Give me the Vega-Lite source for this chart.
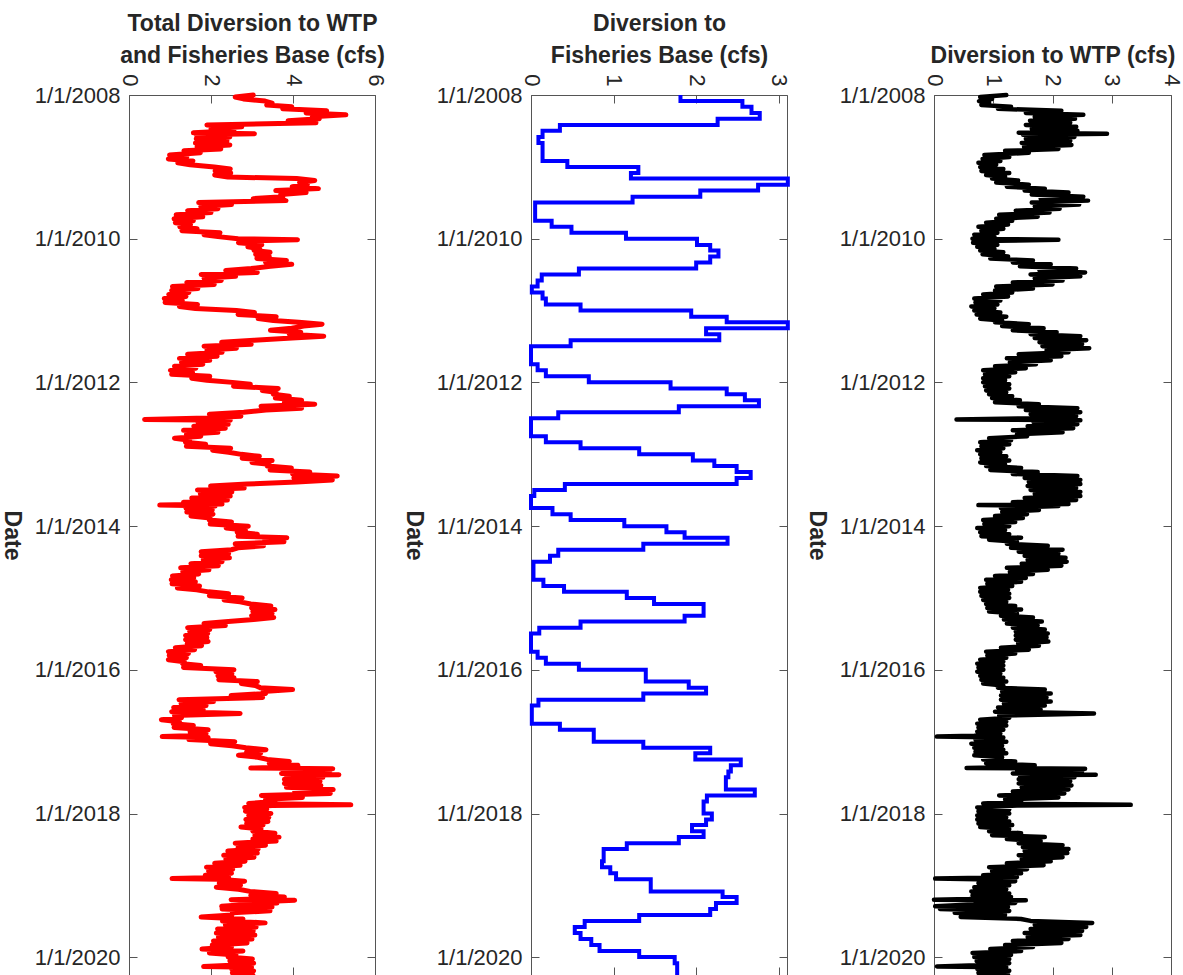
{
"$schema":"https://vega.github.io/schema/vega-lite/v6.json",
"background":"white",
"padding":{"left":-2,"top":12,"right":0,"bottom":0},
"config":{"font":"Liberation Sans","view":{"stroke":"#555555","strokeWidth":1},
"axis":{"labelFont":"Liberation Sans","titleFont":"Liberation Sans","labelColor":"#262626","titleColor":"#262626","labelFontSize":22,"titleFontSize":23,"titleFontWeight":"bold","domain":false,"grid":false,"tickColor":"#555555","tickWidth":1,"labelFlush":false}},
"datasets":{
"div":[
{"t":"2008-01-01","k":1.22,"r":3.03},{"t":"2008-01-11","k":0.78,"r":2.59},{"t":"2008-01-21","k":0.98,"r":2.79},
{"t":"2008-02-01","k":0.76,"r":3.32},{"t":"2008-02-11","k":0.93,"r":3.49},{"t":"2008-02-21","k":0.80,"r":3.36},
{"t":"2008-03-01","k":1.30,"r":3.97},{"t":"2008-03-11","k":1.08,"r":3.75},{"t":"2008-03-21","k":2.15,"r":4.82},
{"t":"2008-04-01","k":1.55,"r":4.32},{"t":"2008-04-11","k":2.52,"r":5.29},{"t":"2008-04-21","k":1.70,"r":4.47},
{"t":"2008-05-01","k":2.38,"r":4.64},{"t":"2008-05-11","k":1.62,"r":3.88},{"t":"2008-05-21","k":2.30,"r":4.56},
{"t":"2008-06-01","k":1.55,"r":1.90},{"t":"2008-06-11","k":2.40,"r":2.75},{"t":"2008-06-21","k":1.65,"r":2.00},
{"t":"2008-07-01","k":2.42,"r":2.56},{"t":"2008-07-11","k":1.43,"r":1.57},{"t":"2008-07-16","k":2.92,"r":3.06},{"t":"2008-07-21","k":1.50,"r":1.64},
{"t":"2008-08-01","k":2.37,"r":2.46},{"t":"2008-08-11","k":1.55,"r":1.64},{"t":"2008-08-21","k":2.30,"r":2.39},
{"t":"2008-09-01","k":1.48,"r":1.62},{"t":"2008-09-11","k":2.32,"r":2.46},{"t":"2008-09-21","k":1.52,"r":1.66},
{"t":"2008-10-01","k":2.10,"r":2.24},{"t":"2008-10-11","k":1.20,"r":1.34},{"t":"2008-10-21","k":1.60,"r":1.74},
{"t":"2008-11-01","k":0.85,"r":0.99},{"t":"2008-11-11","k":1.27,"r":1.41},{"t":"2008-11-21","k":0.82,"r":0.96},
{"t":"2008-12-01","k":1.12,"r":1.56},{"t":"2008-12-11","k":0.75,"r":1.19},{"t":"2008-12-21","k":1.05,"r":1.49},
{"t":"2009-01-01","k":0.78,"r":2.08},{"t":"2009-01-11","k":1.17,"r":2.47},{"t":"2009-01-21","k":0.80,"r":2.10},
{"t":"2009-02-01","k":1.27,"r":2.48},{"t":"2009-02-11","k":0.88,"r":2.09},{"t":"2009-02-21","k":1.20,"r":2.41},
{"t":"2009-03-01","k":0.98,"r":4.09},{"t":"2009-03-11","k":1.42,"r":4.53},{"t":"2009-03-21","k":1.05,"r":4.16},
{"t":"2009-04-01","k":1.60,"r":4.35},{"t":"2009-04-11","k":1.23,"r":3.98},{"t":"2009-04-21","k":1.87,"r":4.62},
{"t":"2009-05-01","k":1.53,"r":3.58},{"t":"2009-05-11","k":2.27,"r":4.32},{"t":"2009-05-21","k":1.65,"r":3.70},
{"t":"2009-06-01","k":2.52,"r":3.75},{"t":"2009-06-11","k":1.80,"r":3.03},{"t":"2009-06-21","k":2.60,"r":3.83},
{"t":"2009-07-01","k":1.65,"r":1.70},{"t":"2009-07-11","k":2.45,"r":2.50},{"t":"2009-07-21","k":1.70,"r":1.75},
{"t":"2009-08-01","k":2.12,"r":2.17},{"t":"2009-08-11","k":1.38,"r":1.43},{"t":"2009-08-21","k":1.95,"r":2.00},
{"t":"2009-09-01","k":1.10,"r":1.15},{"t":"2009-09-11","k":1.75,"r":1.80},{"t":"2009-09-21","k":1.05,"r":1.10},
{"t":"2009-10-01","k":1.32,"r":1.57},{"t":"2009-10-11","k":0.88,"r":1.13},{"t":"2009-10-21","k":1.25,"r":1.50},
{"t":"2009-11-01","k":0.75,"r":1.24},{"t":"2009-11-11","k":1.17,"r":1.66},{"t":"2009-11-21","k":0.80,"r":1.29},
{"t":"2009-12-01","k":1.07,"r":2.22},{"t":"2009-12-11","k":0.68,"r":1.83},{"t":"2009-12-21","k":1.02,"r":2.17},
{"t":"2010-01-01","k":0.65,"r":2.66},{"t":"2010-01-06","k":2.10,"r":4.11},{"t":"2010-01-11","k":1.07,"r":3.08},{"t":"2010-01-21","k":0.66,"r":2.67},
{"t":"2010-02-01","k":1.07,"r":3.24},{"t":"2010-02-11","k":0.73,"r":2.90},{"t":"2010-02-21","k":1.02,"r":3.19},
{"t":"2010-03-01","k":0.78,"r":3.05},{"t":"2010-03-11","k":1.17,"r":3.44},{"t":"2010-03-21","k":0.82,"r":3.09},
{"t":"2010-04-01","k":1.25,"r":3.42},{"t":"2010-04-11","k":0.95,"r":3.12},{"t":"2010-04-21","k":1.67,"r":3.84},
{"t":"2010-05-01","k":1.33,"r":3.33},{"t":"2010-05-11","k":1.97,"r":3.97},{"t":"2010-05-21","k":1.45,"r":3.45},
{"t":"2010-06-01","k":2.40,"r":2.98},{"t":"2010-06-11","k":1.78,"r":2.36},{"t":"2010-06-21","k":2.55,"r":3.13},
{"t":"2010-07-01","k":1.63,"r":1.76},{"t":"2010-07-11","k":2.47,"r":2.60},{"t":"2010-07-21","k":1.70,"r":1.83},
{"t":"2010-08-01","k":2.17,"r":2.25},{"t":"2010-08-11","k":1.33,"r":1.41},{"t":"2010-08-21","k":2.00,"r":2.08},
{"t":"2010-09-01","k":1.05,"r":1.06},{"t":"2010-09-11","k":1.67,"r":1.68},{"t":"2010-09-21","k":1.03,"r":1.04},
{"t":"2010-10-01","k":1.32,"r":1.46},{"t":"2010-10-11","k":0.83,"r":0.97},{"t":"2010-10-21","k":1.25,"r":1.39},
{"t":"2010-11-01","k":0.68,"r":0.86},{"t":"2010-11-11","k":1.12,"r":1.30},{"t":"2010-11-21","k":0.70,"r":0.88},
{"t":"2010-12-01","k":1.07,"r":1.67},{"t":"2010-12-11","k":0.63,"r":1.23},{"t":"2010-12-21","k":1.02,"r":1.62},
{"t":"2011-01-01","k":0.68,"r":2.62},{"t":"2011-01-11","k":1.12,"r":3.06},{"t":"2011-01-21","k":0.72,"r":2.66},
{"t":"2011-02-01","k":1.22,"r":3.59},{"t":"2011-02-11","k":0.78,"r":3.15},{"t":"2011-02-21","k":1.15,"r":3.52},
{"t":"2011-03-01","k":1.03,"r":4.14},{"t":"2011-03-11","k":1.60,"r":4.71},{"t":"2011-03-21","k":1.15,"r":4.26},
{"t":"2011-04-01","k":1.85,"r":3.97},{"t":"2011-04-11","k":1.33,"r":3.45},{"t":"2011-04-21","k":2.07,"r":4.19},
{"t":"2011-05-01","k":1.63,"r":3.91},{"t":"2011-05-11","k":2.47,"r":4.75},{"t":"2011-05-21","k":1.70,"r":3.98},
{"t":"2011-06-01","k":2.57,"r":3.05},{"t":"2011-06-11","k":1.78,"r":2.26},{"t":"2011-06-21","k":2.50,"r":2.98},
{"t":"2011-07-01","k":1.83,"r":1.83},{"t":"2011-07-11","k":2.62,"r":2.62},{"t":"2011-07-21","k":1.90,"r":1.90},
{"t":"2011-08-01","k":2.27,"r":2.27},{"t":"2011-08-11","k":1.43,"r":1.43},{"t":"2011-08-21","k":2.15,"r":2.15},
{"t":"2011-09-01","k":1.23,"r":1.23},{"t":"2011-09-11","k":1.97,"r":1.97},{"t":"2011-09-21","k":1.28,"r":1.28},
{"t":"2011-10-01","k":1.72,"r":1.80},{"t":"2011-10-11","k":1.03,"r":1.11},{"t":"2011-10-21","k":1.55,"r":1.63},
{"t":"2011-11-01","k":0.83,"r":1.01},{"t":"2011-11-11","k":1.37,"r":1.55},{"t":"2011-11-21","k":0.86,"r":1.04},
{"t":"2011-12-01","k":1.27,"r":1.97},{"t":"2011-12-11","k":0.83,"r":1.53},{"t":"2011-12-21","k":1.20,"r":1.90},
{"t":"2012-01-01","k":0.83,"r":2.52},{"t":"2012-01-11","k":1.27,"r":2.96},{"t":"2012-01-21","k":0.86,"r":2.55},
{"t":"2012-02-01","k":1.27,"r":3.64},{"t":"2012-02-11","k":0.88,"r":3.25},{"t":"2012-02-21","k":1.22,"r":3.59},
{"t":"2012-03-01","k":0.93,"r":3.52},{"t":"2012-03-11","k":1.32,"r":3.91},{"t":"2012-03-21","k":0.98,"r":3.57},
{"t":"2012-04-01","k":1.45,"r":4.21},{"t":"2012-04-11","k":1.03,"r":3.79},{"t":"2012-04-21","k":1.77,"r":4.53},
{"t":"2012-05-01","k":1.43,"r":3.22},{"t":"2012-05-11","k":2.42,"r":4.21},{"t":"2012-05-21","k":1.55,"r":3.34},
{"t":"2012-06-01","k":2.47,"r":2.80},{"t":"2012-06-11","k":1.63,"r":1.96},{"t":"2012-06-21","k":2.40,"r":2.73},
{"t":"2012-07-01","k":1.65,"r":1.65},{"t":"2012-07-08","k":0.38,"r":0.38},{"t":"2012-07-11","k":2.47,"r":2.47},{"t":"2012-07-21","k":1.68,"r":1.68},
{"t":"2012-08-01","k":2.42,"r":2.42},{"t":"2012-08-11","k":1.58,"r":1.58},{"t":"2012-08-21","k":2.35,"r":2.35},
{"t":"2012-09-01","k":1.33,"r":1.33},{"t":"2012-09-11","k":2.17,"r":2.17},{"t":"2012-09-21","k":1.40,"r":1.40},
{"t":"2012-10-01","k":1.57,"r":1.75},{"t":"2012-10-11","k":0.93,"r":1.11},{"t":"2012-10-21","k":1.30,"r":1.48},
{"t":"2012-11-01","k":0.78,"r":1.38},{"t":"2012-11-11","k":1.27,"r":1.87},{"t":"2012-11-21","k":0.80,"r":1.40},
{"t":"2012-12-01","k":1.17,"r":2.48},{"t":"2012-12-11","k":0.73,"r":2.04},{"t":"2012-12-21","k":1.12,"r":2.43},
{"t":"2013-01-01","k":0.78,"r":2.74},{"t":"2013-01-11","k":1.22,"r":3.18},{"t":"2013-01-21","k":0.80,"r":2.76},
{"t":"2013-02-01","k":1.27,"r":3.49},{"t":"2013-02-11","k":0.78,"r":3.00},{"t":"2013-02-21","k":1.20,"r":3.42},
{"t":"2013-03-01","k":0.88,"r":3.37},{"t":"2013-03-11","k":1.47,"r":3.96},{"t":"2013-03-21","k":0.95,"r":3.44},
{"t":"2013-04-01","k":1.75,"r":4.41},{"t":"2013-04-11","k":1.33,"r":3.99},{"t":"2013-04-21","k":2.42,"r":5.08},
{"t":"2013-05-01","k":1.53,"r":4.02},{"t":"2013-05-11","k":2.47,"r":4.96},{"t":"2013-05-21","k":1.60,"r":4.09},
{"t":"2013-06-01","k":2.47,"r":2.88},{"t":"2013-06-11","k":1.58,"r":1.99},{"t":"2013-06-21","k":2.40,"r":2.81},
{"t":"2013-07-01","k":1.63,"r":1.67},{"t":"2013-07-11","k":2.47,"r":2.51},{"t":"2013-07-21","k":1.70,"r":1.74},
{"t":"2013-08-01","k":2.47,"r":2.47},{"t":"2013-08-11","k":1.53,"r":1.53},{"t":"2013-08-21","k":2.40,"r":2.40},
{"t":"2013-09-01","k":1.33,"r":1.33},{"t":"2013-09-11","k":2.27,"r":2.27},{"t":"2013-09-16","k":0.75,"r":0.75},{"t":"2013-09-21","k":2.10,"r":2.10},
{"t":"2013-10-01","k":1.13,"r":1.39},{"t":"2013-10-11","k":1.77,"r":2.03},{"t":"2013-10-21","k":1.15,"r":1.41},
{"t":"2013-11-01","k":1.57,"r":2.05},{"t":"2013-11-11","k":1.03,"r":1.51},{"t":"2013-11-21","k":1.50,"r":1.98},
{"t":"2013-12-01","k":0.83,"r":1.96},{"t":"2013-12-11","k":1.37,"r":2.50},{"t":"2013-12-21","k":0.85,"r":1.98},
{"t":"2014-01-01","k":1.27,"r":2.91},{"t":"2014-01-11","k":0.73,"r":2.37},{"t":"2014-01-21","k":1.20,"r":2.84},
{"t":"2014-02-01","k":0.78,"r":2.64},{"t":"2014-02-11","k":1.27,"r":3.13},{"t":"2014-02-21","k":0.80,"r":2.66},
{"t":"2014-03-01","k":1.47,"r":3.85},{"t":"2014-03-11","k":0.93,"r":3.31},{"t":"2014-03-21","k":1.40,"r":3.78},
{"t":"2014-04-01","k":1.23,"r":2.59},{"t":"2014-04-11","k":1.92,"r":3.28},{"t":"2014-04-21","k":1.30,"r":2.66},
{"t":"2014-05-01","k":2.17,"r":2.50},{"t":"2014-05-11","k":1.43,"r":1.76},{"t":"2014-05-21","k":2.10,"r":2.43},
{"t":"2014-06-01","k":1.53,"r":1.76},{"t":"2014-06-11","k":2.22,"r":2.45},{"t":"2014-06-21","k":1.58,"r":1.81},
{"t":"2014-07-01","k":2.24,"r":2.27},{"t":"2014-07-11","k":1.48,"r":1.51},{"t":"2014-07-21","k":2.15,"r":2.18},
{"t":"2014-08-01","k":1.23,"r":1.26},{"t":"2014-08-11","k":1.92,"r":1.95},{"t":"2014-08-21","k":1.28,"r":1.31},
{"t":"2014-09-01","k":1.67,"r":1.70},{"t":"2014-09-11","k":1.03,"r":1.06},{"t":"2014-09-21","k":1.55,"r":1.58},
{"t":"2014-10-01","k":0.88,"r":1.03},{"t":"2014-10-11","k":1.47,"r":1.62},{"t":"2014-10-21","k":0.90,"r":1.05},
{"t":"2014-11-01","k":1.32,"r":1.72},{"t":"2014-11-11","k":0.78,"r":1.18},{"t":"2014-11-21","k":1.25,"r":1.65},
{"t":"2014-12-01","k":0.78,"r":1.94},{"t":"2014-12-11","k":1.27,"r":2.43},{"t":"2014-12-21","k":0.80,"r":1.96},
{"t":"2015-01-01","k":1.27,"r":2.76},{"t":"2015-01-11","k":0.83,"r":2.32},{"t":"2015-01-21","k":1.22,"r":2.71},
{"t":"2015-02-01","k":0.88,"r":2.97},{"t":"2015-02-11","k":1.37,"r":3.46},{"t":"2015-02-21","k":0.90,"r":2.99},
{"t":"2015-03-01","k":1.47,"r":3.56},{"t":"2015-03-11","k":0.93,"r":3.02},{"t":"2015-03-21","k":1.40,"r":3.49},
{"t":"2015-04-01","k":1.13,"r":2.99},{"t":"2015-04-11","k":1.67,"r":3.53},{"t":"2015-04-21","k":1.18,"r":3.04},
{"t":"2015-05-01","k":1.82,"r":2.42},{"t":"2015-05-11","k":1.23,"r":1.83},{"t":"2015-05-21","k":1.75,"r":2.35},
{"t":"2015-06-01","k":1.33,"r":1.43},{"t":"2015-06-11","k":1.87,"r":1.97},{"t":"2015-06-21","k":1.38,"r":1.48},
{"t":"2015-07-01","k":1.92,"r":1.92},{"t":"2015-07-11","k":1.38,"r":1.38},{"t":"2015-07-21","k":1.90,"r":1.90},
{"t":"2015-08-01","k":1.38,"r":1.38},{"t":"2015-08-11","k":1.93,"r":1.93},{"t":"2015-08-21","k":1.42,"r":1.42},
{"t":"2015-09-01","k":1.77,"r":1.77},{"t":"2015-09-11","k":1.13,"r":1.13},{"t":"2015-09-21","k":1.60,"r":1.60},
{"t":"2015-10-01","k":0.88,"r":0.96},{"t":"2015-10-11","k":1.37,"r":1.45},{"t":"2015-10-21","k":0.90,"r":0.98},
{"t":"2015-11-01","k":1.22,"r":1.40},{"t":"2015-11-11","k":0.78,"r":0.96},{"t":"2015-11-21","k":1.17,"r":1.35},
{"t":"2015-12-01","k":0.73,"r":1.31},{"t":"2015-12-11","k":1.17,"r":1.75},{"t":"2015-12-21","k":0.75,"r":1.33},
{"t":"2016-01-01","k":1.17,"r":2.56},{"t":"2016-01-11","k":0.73,"r":2.12},{"t":"2016-01-21","k":1.12,"r":2.51},
{"t":"2016-02-01","k":0.78,"r":2.17},{"t":"2016-02-11","k":1.17,"r":2.56},{"t":"2016-02-21","k":0.80,"r":2.19},
{"t":"2016-03-01","k":1.22,"r":3.13},{"t":"2016-03-11","k":0.83,"r":2.74},{"t":"2016-03-21","k":1.17,"r":3.08},
{"t":"2016-04-01","k":1.08,"r":3.20},{"t":"2016-04-11","k":1.87,"r":3.99},{"t":"2016-04-21","k":1.15,"r":3.27},
{"t":"2016-05-01","k":1.97,"r":3.33},{"t":"2016-05-11","k":1.13,"r":2.49},{"t":"2016-05-21","k":1.90,"r":3.26},
{"t":"2016-06-01","k":1.13,"r":1.22},{"t":"2016-06-11","k":1.97,"r":2.06},{"t":"2016-06-21","k":1.18,"r":1.27},
{"t":"2016-07-01","k":1.87,"r":1.88},{"t":"2016-07-11","k":1.08,"r":1.09},{"t":"2016-07-21","k":1.80,"r":1.81},
{"t":"2016-08-01","k":1.03,"r":1.04},{"t":"2016-08-06","k":1.85,"r":1.86},{"t":"2016-08-10","k":2.70,"r":2.71},{"t":"2016-08-21","k":1.10,"r":1.11},
{"t":"2016-09-01","k":1.27,"r":1.28},{"t":"2016-09-11","k":0.78,"r":0.79},{"t":"2016-09-21","k":1.22,"r":1.23},
{"t":"2016-10-01","k":0.73,"r":1.08},{"t":"2016-10-11","k":1.22,"r":1.57},{"t":"2016-10-21","k":0.75,"r":1.10},
{"t":"2016-11-01","k":1.17,"r":1.93},{"t":"2016-11-11","k":0.73,"r":1.49},{"t":"2016-11-21","k":1.12,"r":1.88},
{"t":"2016-12-01","k":0.68,"r":1.44},{"t":"2016-12-06","k":0.05,"r":0.81},{"t":"2016-12-11","k":1.17,"r":1.93},{"t":"2016-12-21","k":0.70,"r":1.46},
{"t":"2017-01-01","k":1.22,"r":2.58},{"t":"2017-01-11","k":0.63,"r":1.99},{"t":"2017-01-21","k":1.15,"r":2.51},
{"t":"2017-02-01","k":0.68,"r":2.85},{"t":"2017-02-11","k":1.17,"r":3.34},{"t":"2017-02-21","k":0.70,"r":2.87},
{"t":"2017-03-01","k":1.22,"r":3.21},{"t":"2017-03-11","k":0.68,"r":2.67},{"t":"2017-03-21","k":1.15,"r":3.14},
{"t":"2017-04-01","k":0.83,"r":3.37},{"t":"2017-04-11","k":1.37,"r":3.91},{"t":"2017-04-21","k":0.88,"r":3.42},
{"t":"2017-05-01","k":1.70,"r":4.12},{"t":"2017-05-11","k":1.23,"r":3.65},{"t":"2017-05-15","k":0.55,"r":2.97},{"t":"2017-05-18","k":2.55,"r":4.97},{"t":"2017-05-25","k":1.40,"r":3.82},
{"t":"2017-06-01","k":2.50,"r":4.89},{"t":"2017-06-11","k":1.33,"r":3.72},{"t":"2017-06-18","k":2.73,"r":5.12},{"t":"2017-06-21","k":1.45,"r":3.84},
{"t":"2017-07-01","k":2.37,"r":4.73},{"t":"2017-07-11","k":1.43,"r":3.79},{"t":"2017-07-21","k":2.30,"r":4.66},
{"t":"2017-08-01","k":1.43,"r":3.79},{"t":"2017-08-11","k":2.32,"r":4.68},{"t":"2017-08-21","k":1.48,"r":3.84},
{"t":"2017-09-01","k":2.27,"r":4.98},{"t":"2017-09-11","k":1.33,"r":4.04},{"t":"2017-09-21","k":2.20,"r":4.91},
{"t":"2017-10-01","k":1.10,"r":3.23},{"t":"2017-10-11","k":2.10,"r":4.23},{"t":"2017-10-21","k":1.20,"r":3.33},
{"t":"2017-11-01","k":1.47,"r":3.56},{"t":"2017-11-11","k":0.83,"r":2.92},{"t":"2017-11-18","k":3.32,"r":5.41},{"t":"2017-11-21","k":1.40,"r":3.49},
{"t":"2017-12-01","k":0.73,"r":2.82},{"t":"2017-12-11","k":1.27,"r":3.36},{"t":"2017-12-21","k":0.75,"r":2.84},
{"t":"2018-01-01","k":1.27,"r":3.46},{"t":"2018-01-11","k":0.73,"r":2.92},{"t":"2018-01-21","k":1.22,"r":3.41},
{"t":"2018-02-01","k":0.73,"r":2.85},{"t":"2018-02-11","k":1.27,"r":3.39},{"t":"2018-02-21","k":0.75,"r":2.87},
{"t":"2018-03-01","k":1.32,"r":3.27},{"t":"2018-03-11","k":0.78,"r":2.73},{"t":"2018-03-21","k":1.27,"r":3.22},
{"t":"2018-04-01","k":0.93,"r":3.02},{"t":"2018-04-11","k":1.47,"r":3.56},{"t":"2018-04-21","k":0.98,"r":3.07},
{"t":"2018-05-01","k":1.87,"r":3.66},{"t":"2018-05-11","k":1.23,"r":3.02},{"t":"2018-05-21","k":1.80,"r":3.59},
{"t":"2018-06-01","k":1.43,"r":2.59},{"t":"2018-06-11","k":2.17,"r":3.33},{"t":"2018-06-21","k":1.50,"r":2.66},
{"t":"2018-07-01","k":2.27,"r":3.15},{"t":"2018-07-11","k":1.53,"r":2.41},{"t":"2018-07-21","k":2.25,"r":3.13},
{"t":"2018-08-01","k":1.43,"r":2.31},{"t":"2018-08-11","k":2.17,"r":3.05},{"t":"2018-08-21","k":1.48,"r":2.36},
{"t":"2018-09-01","k":1.97,"r":2.83},{"t":"2018-09-11","k":1.23,"r":2.09},{"t":"2018-09-21","k":1.85,"r":2.71},
{"t":"2018-10-01","k":0.93,"r":1.89},{"t":"2018-10-11","k":1.57,"r":2.53},{"t":"2018-10-21","k":0.98,"r":1.94},
{"t":"2018-11-01","k":1.47,"r":2.50},{"t":"2018-11-11","k":0.83,"r":1.86},{"t":"2018-11-21","k":1.40,"r":2.43},{"t":"2018-11-28","k":0.02,"r":1.05},
{"t":"2018-12-01","k":0.73,"r":2.18},{"t":"2018-12-11","k":1.37,"r":2.82},{"t":"2018-12-21","k":0.75,"r":2.20},
{"t":"2019-01-01","k":1.27,"r":2.72},{"t":"2019-01-11","k":0.68,"r":2.13},{"t":"2019-01-21","k":1.22,"r":2.67},
{"t":"2019-02-01","k":0.63,"r":2.95},{"t":"2019-02-11","k":1.27,"r":3.59},{"t":"2019-02-21","k":0.65,"r":2.97},
{"t":"2019-03-01","k":1.30,"r":3.79},{"t":"2019-03-11","k":0.60,"r":3.09},{"t":"2019-03-15","k":0.00,"r":2.49},{"t":"2019-03-18","k":1.55,"r":4.04},{"t":"2019-03-25","k":0.70,"r":3.19},
{"t":"2019-04-01","k":1.37,"r":3.61},{"t":"2019-04-11","k":0.45,"r":2.69},{"t":"2019-04-18","k":0.02,"r":2.26},{"t":"2019-04-21","k":1.25,"r":3.49},
{"t":"2019-05-01","k":0.10,"r":2.27},{"t":"2019-05-11","k":1.27,"r":3.44},{"t":"2019-05-21","k":0.35,"r":2.52},
{"t":"2019-06-01","k":1.20,"r":2.51},{"t":"2019-06-11","k":0.45,"r":1.76},{"t":"2019-06-21","k":1.47,"r":2.78},
{"t":"2019-07-01","k":1.63,"r":2.28},{"t":"2019-07-11","k":2.67,"r":3.32},{"t":"2019-07-21","k":1.70,"r":2.35},
{"t":"2019-08-01","k":2.57,"r":3.10},{"t":"2019-08-11","k":1.63,"r":2.16},{"t":"2019-08-21","k":2.50,"r":3.03},
{"t":"2019-09-01","k":1.53,"r":2.13},{"t":"2019-09-11","k":2.47,"r":3.07},{"t":"2019-09-21","k":1.58,"r":2.18},
{"t":"2019-10-01","k":2.27,"r":3.00},{"t":"2019-10-11","k":1.33,"r":2.06},{"t":"2019-10-21","k":2.15,"r":2.88},
{"t":"2019-11-01","k":1.20,"r":2.03},{"t":"2019-11-11","k":1.67,"r":2.50},{"t":"2019-11-21","k":0.95,"r":1.78},
{"t":"2019-12-01","k":1.47,"r":2.78},{"t":"2019-12-11","k":0.65,"r":1.96},{"t":"2019-12-21","k":1.30,"r":2.61},
{"t":"2020-01-01","k":0.68,"r":2.42},{"t":"2020-01-11","k":1.27,"r":3.01},{"t":"2020-01-21","k":0.72,"r":2.46},
{"t":"2020-02-01","k":1.27,"r":3.04},{"t":"2020-02-11","k":0.73,"r":2.50},{"t":"2020-02-18","k":0.05,"r":1.82},{"t":"2020-02-21","k":1.22,"r":2.99},
{"t":"2020-03-01","k":0.73,"r":2.50},{"t":"2020-03-11","k":1.27,"r":3.04},{"t":"2020-03-21","k":0.75,"r":2.52},
{"t":"2020-04-01","k":1.25,"r":3.02},{"t":"2020-04-11","k":0.73,"r":2.50}
],
"fish":[
{"t":"2008-01-01","b":1.81},{"t":"2008-02-01","b":2.56},{"t":"2008-03-01","b":2.67},{"t":"2008-04-01","b":2.77},{"t":"2008-05-01","b":2.26},{"t":"2008-06-01","b":0.35},{"t":"2008-07-01","b":0.14},{"t":"2008-08-01","b":0.09},{"t":"2008-09-01","b":0.14},{"t":"2008-10-01","b":0.14},{"t":"2008-11-01","b":0.14},{"t":"2008-12-01","b":0.44},
{"t":"2009-01-01","b":1.30},{"t":"2009-02-01","b":1.21},{"t":"2009-03-01","b":3.11},{"t":"2009-04-01","b":2.75},{"t":"2009-05-01","b":2.05},{"t":"2009-06-01","b":1.23},{"t":"2009-07-01","b":0.05},{"t":"2009-08-01","b":0.05},{"t":"2009-09-01","b":0.05},{"t":"2009-10-01","b":0.25},{"t":"2009-11-01","b":0.49},{"t":"2009-12-01","b":1.15},
{"t":"2010-01-01","b":2.01},{"t":"2010-02-01","b":2.17},{"t":"2010-03-01","b":2.27},{"t":"2010-04-01","b":2.17},{"t":"2010-05-01","b":2.00},{"t":"2010-06-01","b":0.58},{"t":"2010-07-01","b":0.13},{"t":"2010-08-01","b":0.08},{"t":"2010-09-01","b":0.01},{"t":"2010-10-01","b":0.14},{"t":"2010-11-01","b":0.18},{"t":"2010-12-01","b":0.60},
{"t":"2011-01-01","b":1.94},{"t":"2011-02-01","b":2.37},{"t":"2011-03-01","b":3.11},{"t":"2011-04-01","b":2.12},{"t":"2011-05-01","b":2.28},{"t":"2011-06-01","b":0.48},{"t":"2011-07-01","b":0.00},{"t":"2011-08-01","b":0.00},{"t":"2011-09-01","b":0.00},{"t":"2011-10-01","b":0.08},{"t":"2011-11-01","b":0.18},{"t":"2011-12-01","b":0.70},
{"t":"2012-01-01","b":1.69},{"t":"2012-02-01","b":2.37},{"t":"2012-03-01","b":2.59},{"t":"2012-04-01","b":2.76},{"t":"2012-05-01","b":1.79},{"t":"2012-06-01","b":0.33},{"t":"2012-07-01","b":0.00},{"t":"2012-08-01","b":0.00},{"t":"2012-09-01","b":0.00},{"t":"2012-10-01","b":0.18},{"t":"2012-11-01","b":0.60},{"t":"2012-12-01","b":1.31},
{"t":"2013-01-01","b":1.96},{"t":"2013-02-01","b":2.22},{"t":"2013-03-01","b":2.49},{"t":"2013-04-01","b":2.66},{"t":"2013-05-01","b":2.49},{"t":"2013-06-01","b":0.41},{"t":"2013-07-01","b":0.04},{"t":"2013-08-01","b":0.00},{"t":"2013-09-01","b":0.00},{"t":"2013-10-01","b":0.26},{"t":"2013-11-01","b":0.48},{"t":"2013-12-01","b":1.13},
{"t":"2014-01-01","b":1.64},{"t":"2014-02-01","b":1.86},{"t":"2014-03-01","b":2.38},{"t":"2014-04-01","b":1.36},{"t":"2014-05-01","b":0.33},{"t":"2014-06-01","b":0.23},{"t":"2014-07-01","b":0.03},{"t":"2014-08-01","b":0.03},{"t":"2014-09-01","b":0.03},{"t":"2014-10-01","b":0.15},{"t":"2014-11-01","b":0.40},{"t":"2014-12-01","b":1.16},
{"t":"2015-01-01","b":1.49},{"t":"2015-02-01","b":2.09},{"t":"2015-03-01","b":2.09},{"t":"2015-04-01","b":1.86},{"t":"2015-05-01","b":0.60},{"t":"2015-06-01","b":0.10},{"t":"2015-07-01","b":0.00},{"t":"2015-08-01","b":0.00},{"t":"2015-09-01","b":0.00},{"t":"2015-10-01","b":0.08},{"t":"2015-11-01","b":0.18},{"t":"2015-12-01","b":0.58},
{"t":"2016-01-01","b":1.39},{"t":"2016-02-01","b":1.39},{"t":"2016-03-01","b":1.91},{"t":"2016-04-01","b":2.12},{"t":"2016-05-01","b":1.36},{"t":"2016-06-01","b":0.09},{"t":"2016-07-01","b":0.01},{"t":"2016-08-01","b":0.01},{"t":"2016-09-01","b":0.01},{"t":"2016-10-01","b":0.35},{"t":"2016-11-01","b":0.76},{"t":"2016-12-01","b":0.76},
{"t":"2017-01-01","b":1.36},{"t":"2017-02-01","b":2.17},{"t":"2017-03-01","b":1.99},{"t":"2017-04-01","b":2.54},{"t":"2017-05-01","b":2.42},{"t":"2017-06-01","b":2.39},{"t":"2017-07-01","b":2.36},{"t":"2017-08-01","b":2.36},{"t":"2017-09-01","b":2.71},{"t":"2017-10-01","b":2.13},{"t":"2017-11-01","b":2.09},{"t":"2017-12-01","b":2.09},
{"t":"2018-01-01","b":2.19},{"t":"2018-02-01","b":2.12},{"t":"2018-03-01","b":1.95},{"t":"2018-04-01","b":2.09},{"t":"2018-05-01","b":1.79},{"t":"2018-06-01","b":1.16},{"t":"2018-07-01","b":0.88},{"t":"2018-08-01","b":0.88},{"t":"2018-09-01","b":0.86},{"t":"2018-10-01","b":0.96},{"t":"2018-11-01","b":1.03},{"t":"2018-12-01","b":1.45},
{"t":"2019-01-01","b":1.45},{"t":"2019-02-01","b":2.32},{"t":"2019-03-01","b":2.49},{"t":"2019-04-01","b":2.24},{"t":"2019-05-01","b":2.17},{"t":"2019-06-01","b":1.31},{"t":"2019-07-01","b":0.65},{"t":"2019-08-01","b":0.53},{"t":"2019-09-01","b":0.60},{"t":"2019-10-01","b":0.73},{"t":"2019-11-01","b":0.83},{"t":"2019-12-01","b":1.31},
{"t":"2020-01-01","b":1.74},{"t":"2020-02-01","b":1.77},{"t":"2020-03-01","b":1.77},{"t":"2020-04-01","b":1.77},{"t":"2020-05-01","b":1.77}
]},
"bounds":"flush",
"spacing":156,
"hconcat":[
{"width":246,"height":880,
 "layer":[
  {"data":{"name":"div"},
   "mark":{"type":"line","color":"#ff0000","strokeWidth":5,"strokeJoin":"round","strokeCap":"round"},
   "encoding":{
    "x":{"field":"r","type":"quantitative","scale":{"domain":[0,6],"nice":false,"zero":false},
         "axis":{"orient":"top","title":["Total Diversion to WTP","and Fisheries Base (cfs)"],"values":[0,2,4,6],"labelAngle":90,"labelAlign":"right","labelBaseline":"middle","tickSize":-8,"labelPadding":17,"titlePadding":6,"titleLineHeight":32}},
    "y":{"field":"t","type":"temporal","scale":{"type":"utc","domain":[{"year":2008,"month":1,"date":1,"utc":true},{"year":2020,"month":4,"date":1,"utc":true}],"reverse":true,"nice":false},
         "axis":{"orient":"left","title":"Date","format":"%-m/%-d/%Y","values":[{"year":2008,"month":1,"date":1,"utc":true},{"year":2010,"month":1,"date":1,"utc":true},{"year":2012,"month":1,"date":1,"utc":true},{"year":2014,"month":1,"date":1,"utc":true},{"year":2016,"month":1,"date":1,"utc":true},{"year":2018,"month":1,"date":1,"utc":true},{"year":2020,"month":1,"date":1,"utc":true}],"tickSize":-8,"labelPadding":17,"titleAngle":90,"titleBaseline":"top","titlePadding":12}},
    "order":{"field":"t","type":"temporal"}}},
  {"data":{"name":"fish"},
   "mark":{"type":"point","opacity":0},
   "encoding":{
    "x":{"field":"b","type":"quantitative","axis":{"orient":"bottom","labels":false,"title":null,"values":[0,2,4,6],"tickSize":-8}},
    "y":{"field":"t","type":"temporal","axis":{"orient":"right","labels":false,"title":null,"values":[{"year":2008,"month":1,"date":1,"utc":true},{"year":2010,"month":1,"date":1,"utc":true},{"year":2012,"month":1,"date":1,"utc":true},{"year":2014,"month":1,"date":1,"utc":true},{"year":2016,"month":1,"date":1,"utc":true},{"year":2018,"month":1,"date":1,"utc":true},{"year":2020,"month":1,"date":1,"utc":true}],"tickSize":-8}}}}
 ],
 "resolve":{"axis":{"x":"independent","y":"independent"}}},
{"bounds":"flush","spacing":147,
 "hconcat":[
 {"width":256,"height":880,
 "layer":[
  {"data":{"name":"fish"},
   "mark":{"type":"line","color":"#0000ff","strokeWidth":4,"strokeJoin":"miter","interpolate":"step-before"},
   "encoding":{
    "x":{"field":"b","type":"quantitative","scale":{"domain":[0,3.1],"nice":false,"zero":false},
         "axis":{"orient":"top","title":["Diversion to","Fisheries Base (cfs)"],"values":[0,1,2,3],"labelAngle":90,"labelAlign":"right","labelBaseline":"middle","tickSize":-8,"labelPadding":17,"titlePadding":6,"titleLineHeight":32}},
    "y":{"field":"t","type":"temporal","scale":{"type":"utc","domain":[{"year":2008,"month":1,"date":1,"utc":true},{"year":2020,"month":4,"date":1,"utc":true}],"reverse":true,"nice":false},
         "axis":{"orient":"left","title":"Date","format":"%-m/%-d/%Y","values":[{"year":2008,"month":1,"date":1,"utc":true},{"year":2010,"month":1,"date":1,"utc":true},{"year":2012,"month":1,"date":1,"utc":true},{"year":2014,"month":1,"date":1,"utc":true},{"year":2016,"month":1,"date":1,"utc":true},{"year":2018,"month":1,"date":1,"utc":true},{"year":2020,"month":1,"date":1,"utc":true}],"tickSize":-8,"labelPadding":17,"titleAngle":90,"titleBaseline":"top","titlePadding":12}},
    "order":{"field":"t","type":"temporal"}}},
  {"data":{"name":"fish"},
   "mark":{"type":"point","opacity":0},
   "encoding":{
    "x":{"field":"b","type":"quantitative","axis":{"orient":"bottom","labels":false,"title":null,"values":[0,1,2,3],"tickSize":-8}},
    "y":{"field":"t","type":"temporal","axis":{"orient":"right","labels":false,"title":null,"values":[{"year":2008,"month":1,"date":1,"utc":true},{"year":2010,"month":1,"date":1,"utc":true},{"year":2012,"month":1,"date":1,"utc":true},{"year":2014,"month":1,"date":1,"utc":true},{"year":2016,"month":1,"date":1,"utc":true},{"year":2018,"month":1,"date":1,"utc":true},{"year":2020,"month":1,"date":1,"utc":true}],"tickSize":-8}}}}
 ],
 "resolve":{"axis":{"x":"independent","y":"independent"}}},
 {"width":237,"height":880,
 "layer":[
  {"data":{"name":"div"},
   "mark":{"type":"line","color":"#000000","strokeWidth":4.5,"strokeJoin":"round","strokeCap":"round"},
   "encoding":{
    "x":{"field":"k","type":"quantitative","scale":{"domain":[0,4],"nice":false,"zero":false},
         "axis":{"orient":"top","title":"Diversion to WTP (cfs)","values":[0,1,2,3,4],"labelAngle":90,"labelAlign":"right","labelBaseline":"middle","tickSize":-8,"labelPadding":17,"titlePadding":6,"titleLineHeight":32}},
    "y":{"field":"t","type":"temporal","scale":{"type":"utc","domain":[{"year":2008,"month":1,"date":1,"utc":true},{"year":2020,"month":4,"date":1,"utc":true}],"reverse":true,"nice":false},
         "axis":{"orient":"left","title":"Date","format":"%-m/%-d/%Y","values":[{"year":2008,"month":1,"date":1,"utc":true},{"year":2010,"month":1,"date":1,"utc":true},{"year":2012,"month":1,"date":1,"utc":true},{"year":2014,"month":1,"date":1,"utc":true},{"year":2016,"month":1,"date":1,"utc":true},{"year":2018,"month":1,"date":1,"utc":true},{"year":2020,"month":1,"date":1,"utc":true}],"tickSize":-8,"labelPadding":17,"titleAngle":90,"titleBaseline":"top","titlePadding":12}},
    "order":{"field":"t","type":"temporal"}}},
  {"data":{"name":"fish"},
   "mark":{"type":"point","opacity":0},
   "encoding":{
    "x":{"field":"b","type":"quantitative","axis":{"orient":"bottom","labels":false,"title":null,"values":[0,1,2,3,4],"tickSize":-8}},
    "y":{"field":"t","type":"temporal","axis":{"orient":"right","labels":false,"title":null,"values":[{"year":2008,"month":1,"date":1,"utc":true},{"year":2010,"month":1,"date":1,"utc":true},{"year":2012,"month":1,"date":1,"utc":true},{"year":2014,"month":1,"date":1,"utc":true},{"year":2016,"month":1,"date":1,"utc":true},{"year":2018,"month":1,"date":1,"utc":true},{"year":2020,"month":1,"date":1,"utc":true}],"tickSize":-8}}}}
 ],
 "resolve":{"axis":{"x":"independent","y":"independent"}}}
 ]}
]
}
